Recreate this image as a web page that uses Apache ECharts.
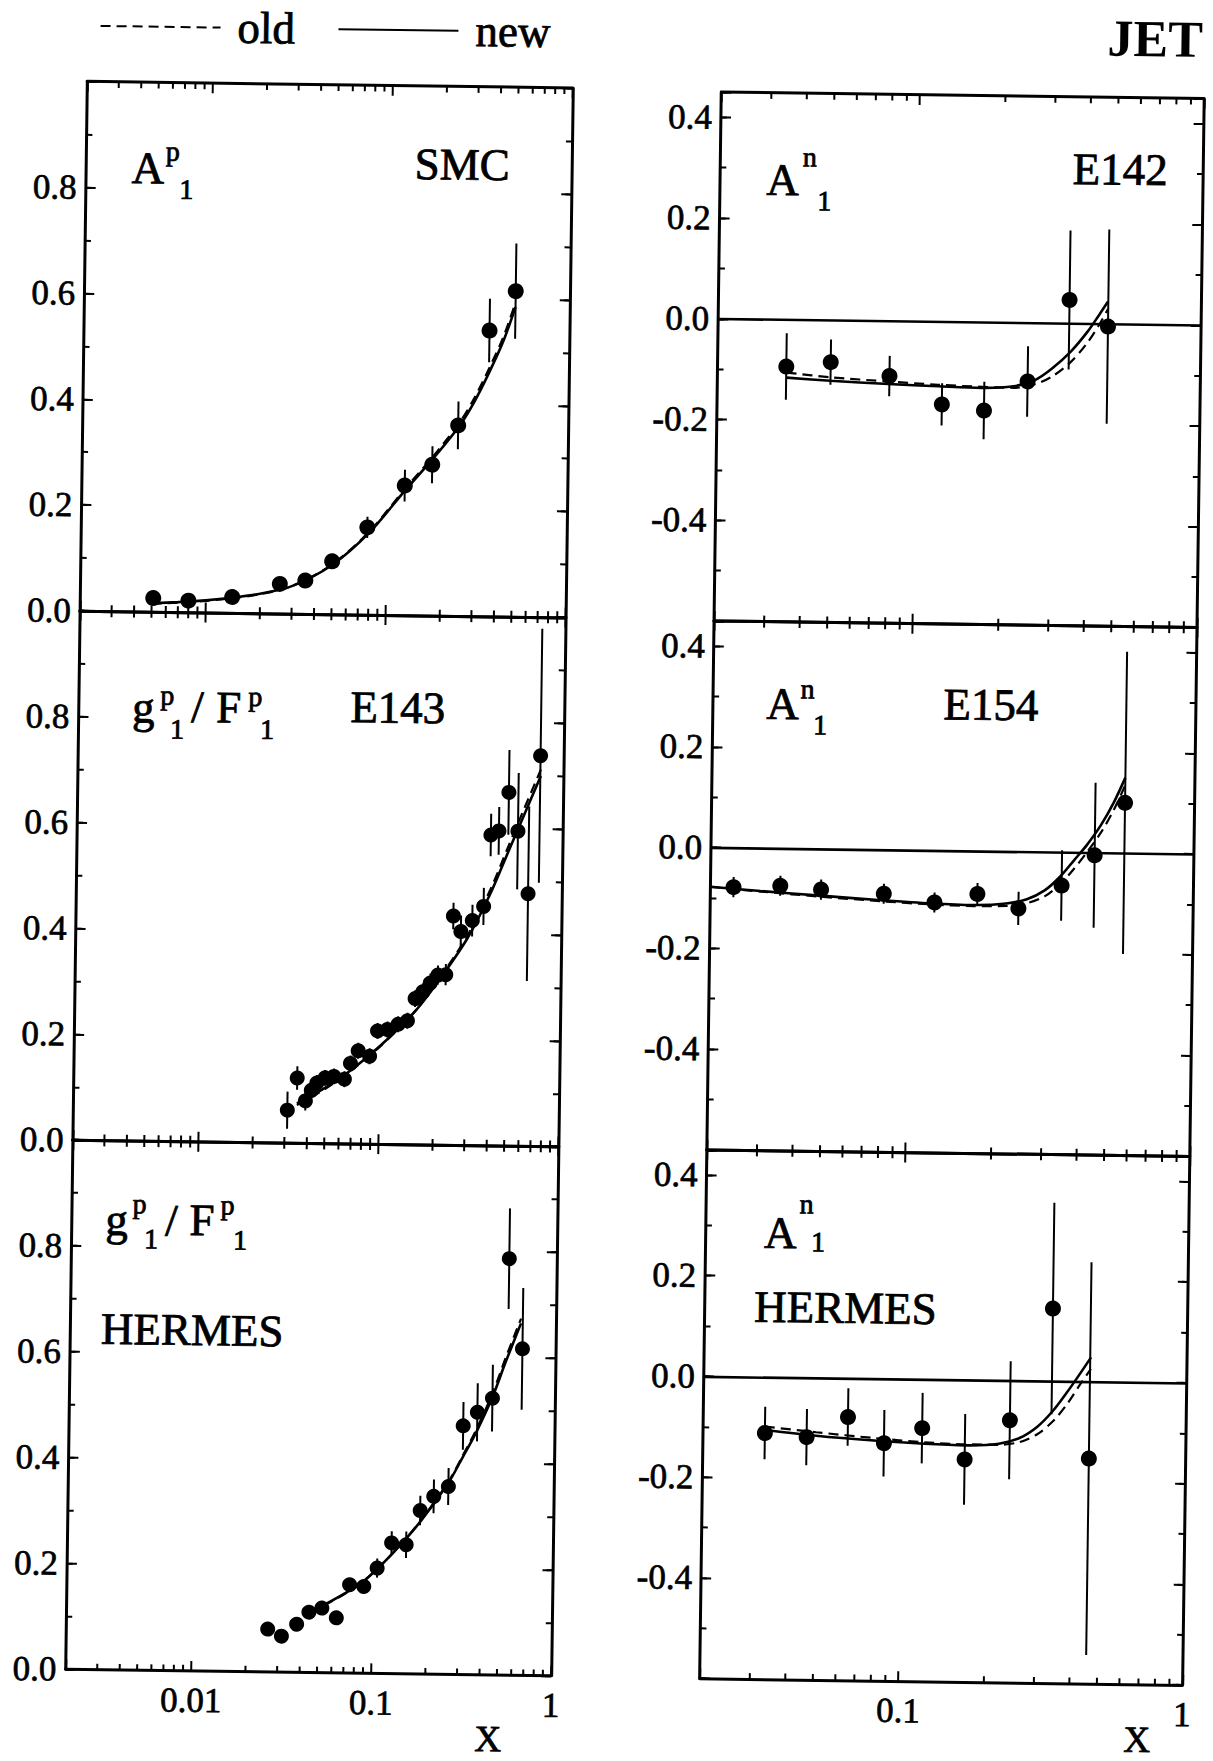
<!DOCTYPE html>
<html><head><meta charset="utf-8">
<script src="https://cdn.jsdelivr.net/npm/echarts@6.0.0/dist/echarts.min.js"></script>
<style>
html,body{margin:0;padding:0;background:#fff;overflow:hidden;width:1213px;height:1761px}
#c{position:absolute;left:0;top:0;width:1213px;height:1761px;transform:rotate(0.78deg);transform-origin:606.5px 880.5px}
</style></head><body><div id="c"></div>
<script>
// ---------- DATA ----------
// SMC  A1^p
const smcX   = [0.0051, 0.0080, 0.0140, 0.0257, 0.0356, 0.0500, 0.0780, 0.125, 0.177, 0.245, 0.36, 0.50];
const smcY   = [0.026, 0.022, 0.030, 0.056, 0.063, 0.100, 0.165, 0.245, 0.285, 0.360, 0.540, 0.615];
const smcErr = [0.006, 0.006, 0.007, 0.012, 0.014, 0.014, 0.020, 0.030, 0.035, 0.045, 0.060, 0.090];
const smcCurveX = [0.005, 0.007, 0.01, 0.015, 0.02, 0.03, 0.05, 0.08, 0.125, 0.18, 0.25, 0.3, 0.36, 0.43, 0.5];
const smcNew    = [0.016, 0.019, 0.023, 0.030, 0.037, 0.052, 0.093, 0.155, 0.235, 0.298, 0.360, 0.405, 0.460, 0.520, 0.585];
const smcOld    = [0.015, 0.018, 0.022, 0.029, 0.036, 0.052, 0.094, 0.157, 0.238, 0.302, 0.366, 0.412, 0.468, 0.528, 0.594];

// E143  g1^p / F1^p
const e143X   = [0.031, 0.035, 0.039, 0.042, 0.045, 0.050, 0.056, 0.064, 0.069, 0.076, 0.088, 0.097, 0.110, 0.126, 0.142, 0.156, 0.172, 0.189, 0.208, 0.230, 0.251, 0.277, 0.320, 0.369, 0.40, 0.443, 0.50, 0.565, 0.65, 0.745];
const e143Y   = [0.062, 0.123, 0.080, 0.100, 0.114, 0.124, 0.127, 0.122, 0.152, 0.176, 0.166, 0.214, 0.217, 0.227, 0.234, 0.276, 0.289, 0.306, 0.321, 0.322, 0.433, 0.404, 0.425, 0.452, 0.587, 0.595, 0.668, 0.595, 0.477, 0.738];
const e143Err = [0.035, 0.022, 0.018, 0.015, 0.015, 0.015, 0.015, 0.015, 0.015, 0.015, 0.015, 0.015, 0.015, 0.015, 0.015, 0.016, 0.016, 0.018, 0.018, 0.020, 0.025, 0.030, 0.030, 0.035, 0.040, 0.045, 0.080, 0.110, 0.165, 0.240];
const e143CurveX = [0.035, 0.05, 0.07, 0.1, 0.15, 0.2, 0.3, 0.4, 0.5, 0.6, 0.75];
const e143New    = [0.075, 0.105, 0.140, 0.185, 0.245, 0.300, 0.390, 0.475, 0.555, 0.620, 0.700];
const e143Old    = [0.072, 0.103, 0.139, 0.184, 0.245, 0.302, 0.395, 0.483, 0.565, 0.632, 0.712];

// HERMES  g1^p / F1^p
const hpX   = [0.0264, 0.0315, 0.0382, 0.0446, 0.0526, 0.0634, 0.0747, 0.0896, 0.106, 0.127, 0.153, 0.182, 0.216, 0.260, 0.311, 0.372, 0.450, 0.545, 0.655];
const hpY   = [0.081, 0.068, 0.091, 0.114, 0.122, 0.104, 0.167, 0.164, 0.199, 0.247, 0.244, 0.309, 0.336, 0.355, 0.470, 0.496, 0.523, 0.787, 0.617];
const hpErr = [0.008, 0.008, 0.008, 0.008, 0.008, 0.008, 0.012, 0.012, 0.018, 0.022, 0.025, 0.028, 0.032, 0.035, 0.045, 0.055, 0.063, 0.095, 0.115];
const hpCurveX = [0.054, 0.07, 0.09, 0.127, 0.18, 0.26, 0.31, 0.37, 0.45, 0.53, 0.64];
const hpNew    = [0.128, 0.150, 0.175, 0.225, 0.285, 0.362, 0.410, 0.460, 0.525, 0.592, 0.665];
const hpOld    = [0.127, 0.149, 0.175, 0.225, 0.286, 0.364, 0.413, 0.465, 0.532, 0.600, 0.674];

// E142  A1^n
const e142X   = [0.0349, 0.050, 0.0806, 0.1236, 0.174, 0.247, 0.344, 0.471];
const e142Y   = [-0.093, -0.083, -0.109, -0.164, -0.175, -0.116, 0.047, -0.005];
const e142Err = [0.066, 0.045, 0.040, 0.042, 0.057, 0.070, 0.138, 0.193];
const e142CurveX = [0.035, 0.05, 0.08, 0.12, 0.17, 0.22, 0.26, 0.30, 0.35, 0.40, 0.44, 0.47];
const e142New    = [-0.115, -0.120, -0.125, -0.128, -0.130, -0.126, -0.114, -0.090, -0.055, -0.015, 0.020, 0.045];
const e142Old    = [-0.105, -0.113, -0.120, -0.125, -0.128, -0.129, -0.122, -0.106, -0.076, -0.037, 0.000, 0.030];

// E154  A1^n
const e154X   = [0.0241, 0.0352, 0.049, 0.0815, 0.123, 0.174, 0.243, 0.344, 0.448, 0.570];
const e154Y   = [-0.078, -0.074, -0.0805, -0.087, -0.103, -0.085, -0.1125, -0.066, -0.005, 0.100];
const e154Err = [0.020, 0.020, 0.020, 0.020, 0.020, 0.022, 0.033, 0.070, 0.144, 0.300];
const e154CurveX = [0.02, 0.03, 0.05, 0.08, 0.12, 0.17, 0.22, 0.26, 0.30, 0.34, 0.38, 0.42, 0.47, 0.52, 0.57];
const e154New    = [-0.078, -0.085, -0.093, -0.100, -0.105, -0.107, -0.103, -0.094, -0.076, -0.048, -0.015, 0.015, 0.055, 0.100, 0.150];
const e154Old    = [-0.078, -0.086, -0.095, -0.102, -0.107, -0.109, -0.108, -0.102, -0.088, -0.063, -0.032, 0.000, 0.040, 0.085, 0.135];

// HERMES  A1^n
const hnX   = [0.033, 0.0463, 0.0646, 0.0867, 0.118, 0.167, 0.240, 0.336, 0.457];
const hnY   = [-0.111, -0.118, -0.077, -0.128, -0.097, -0.158, -0.079, 0.144, -0.153];
const hnErr = [0.052, 0.056, 0.057, 0.066, 0.070, 0.090, 0.117, 0.210, 0.390];
const hnCurveX = [0.033, 0.05, 0.08, 0.12, 0.17, 0.22, 0.26, 0.30, 0.34, 0.38, 0.42, 0.46];
const hnNew    = [-0.105, -0.115, -0.123, -0.128, -0.130, -0.126, -0.114, -0.091, -0.059, -0.022, 0.014, 0.048];
const hnOld    = [-0.098, -0.108, -0.118, -0.125, -0.128, -0.128, -0.122, -0.106, -0.080, -0.046, -0.008, 0.025];

// tick labels / ticks
const leftXLabels  = [0.01, 0.1, 1];
const rightXLabels = [0.1, 1];
const leftYLabels  = [0.0, 0.2, 0.4, 0.6, 0.8];
const rightYLabels = [-0.4, -0.2, 0.0, 0.2, 0.4];
const leftXRange  = [0.002, 1];
const rightXRange = [0.02, 1];
const leftYRange  = [0, 1];
const rightYRange = [-0.6, 0.45];
const leftMinorX  = [0.003,0.004,0.005,0.006,0.007,0.008,0.009,0.02,0.03,0.04,0.05,0.06,0.07,0.08,0.09,0.2,0.3,0.4,0.5,0.6,0.7,0.8,0.9];
const rightMinorX = [0.03,0.04,0.05,0.06,0.07,0.08,0.09,0.2,0.3,0.4,0.5,0.6,0.7,0.8,0.9];

// ---------- LAYOUT ----------
const FONT = 'Liberation Serif';
const layout = {
  L: {left: 76.3, width: 485.6, tops: [88.7, 618.0, 1147.2], height: 529.3},
  R: {left: 710.6, width: 482.7, tops: [90.7, 619.5, 1148.3], height: 528.8}
};
const panels = [
  {col:'L', row:0, px:smcX, py:smcY, pe:smcErr, cx:smcCurveX, cn:smcNew, co:smcOld, dot:16},
  {col:'L', row:1, px:e143X, py:e143Y, pe:e143Err, cx:e143CurveX, cn:e143New, co:e143Old, dot:15},
  {col:'L', row:2, px:hpX, py:hpY, pe:hpErr, cx:hpCurveX, cn:hpNew, co:hpOld, dot:15, xl:true},
  {col:'R', row:0, px:e142X, py:e142Y, pe:e142Err, cx:e142CurveX, cn:e142New, co:e142Old, dot:16},
  {col:'R', row:1, px:e154X, py:e154Y, pe:e154Err, cx:e154CurveX, cn:e154New, co:e154Old, dot:16},
  {col:'R', row:2, px:hnX, py:hnY, pe:hnErr, cx:hnCurveX, cn:hnNew, co:hnOld, dot:16, xl:true}
];

const pairs = (xs, ys) => xs.map((x, i) => [x, ys[i]]);
const triples = (xs, ys, es) => xs.map((x, i) => [x, ys[i], es[i]]);

const grids = [], xAxes = [], yAxes = [], series = [];
const lineBlack = {color:'#000', width:3};
const tickMajor = {show:true, inside:true, length:10, lineStyle:{color:'#000', width:2}};
const tickMinor = {show:true, inside:true, length:6, lineStyle:{color:'#000', width:2}};
const labelInk = {color:'#000', fontFamily:FONT, fontSize:35, textBorderColor:'#000', textBorderWidth:0.7};
const DASH = [10, 6];

panels.forEach((p, g) => {
  const L = p.col === 'L';
  const lay = layout[p.col];
  grids.push({left: lay.left, top: lay.tops[p.row], width: lay.width, height: lay.height});
  const xr = L ? leftXRange : rightXRange;
  const yr = L ? leftYRange : rightYRange;
  const xlab = p.xl ? (L ? leftXLabels : rightXLabels) : [];
  const ylab = L ? leftYLabels : rightYLabels;
  const minorX = L ? leftMinorX : rightMinorX;

  const bx = {type:'log', logBase:10, min:xr[0], max:xr[1], gridIndex:g,
    splitLine:{show:false}, axisLine:{show:true, onZero:false, lineStyle:lineBlack}, axisTick:tickMajor};
  xAxes.push(Object.assign({}, bx, {position:'bottom', axisLabel:Object.assign({show: xlab.length > 0, margin:12,
    formatter: v => { const t = xlab.find(t => Math.abs(t - v) / t < 1e-6); return t === undefined ? '' : String(t); }}, labelInk)}));
  xAxes.push(Object.assign({}, bx, {position:'top', axisLabel:{show:false}}));

  const by = {type:'value', min:yr[0], max:yr[1], gridIndex:g, splitLine:{show:false}};
  yAxes.push(Object.assign({}, by, {position:'left', interval:0.2, axisLine:{show:true, onZero:false, lineStyle:lineBlack},
    axisTick:tickMajor, axisLabel:Object.assign({margin:9,
    formatter: v => { const t = ylab.find(t => Math.abs(t - v) < 1e-6); return t === undefined ? '' : t.toFixed(1); }}, labelInk)}));
  yAxes.push(Object.assign({}, by, {position:'left', interval:0.1, axisLine:{show:false, onZero:false}, axisTick:tickMinor, axisLabel:{show:false}}));
  yAxes.push(Object.assign({}, by, {position:'right', interval:0.2, axisLine:{show:true, onZero:false, lineStyle:lineBlack}, axisTick:tickMajor, axisLabel:{show:false}}));
  yAxes.push(Object.assign({}, by, {position:'right', interval:0.1, axisLine:{show:false, onZero:false}, axisTick:tickMinor, axisLabel:{show:false}}));

  const xi = 2 * g, yi = 4 * g;
  series.push({type:'line', name:'old', xAxisIndex:xi, yAxisIndex:yi, data:pairs(p.cx, p.co),
    symbol:'none', showSymbol:false, smooth:0.3,
    lineStyle:{color:'#000', width:2.2, type:DASH}, itemStyle:{color:'#000'}, z:2, silent:true});
  const sNew = {type:'line', name:'new', xAxisIndex:xi, yAxisIndex:yi, data:pairs(p.cx, p.cn),
    symbol:'none', showSymbol:false, smooth:0.3,
    lineStyle:{color:'#000', width:2.6, type:'solid'}, itemStyle:{color:'#000'}, z:2, silent:true};
  if (!L) {
    sNew.markLine = {silent:true, symbol:['none','none'], label:{show:false}, animation:false,
      lineStyle:{color:'#000', width:2.6, type:'solid'}, data:[{yAxis:0}]};
  }
  series.push(sNew);
  series.push({type:'custom', xAxisIndex:xi, yAxisIndex:yi, data:triples(p.px, p.py, p.pe), silent:true, z:3,
    encode:{x:0, y:1},
    renderItem: (params, api) => {
      const x = api.value(0), y = api.value(1), e = api.value(2);
      const a = api.coord([x, y + e]), b = api.coord([x, y - e]);
      return {type:'line', shape:{x1:a[0], y1:a[1], x2:b[0], y2:b[1]}, style:{stroke:'#000', lineWidth:2}};
    }});
  series.push({type:'scatter', xAxisIndex:xi, yAxisIndex:yi, data:pairs(p.px, p.py), symbol:'circle',
    symbolSize:p.dot, itemStyle:{color:'#000', opacity:1}, z:4, silent:true});
  series.push({type:'custom', xAxisIndex:xi, yAxisIndex:yi, data:minorX.map(v => [v, yr[0]]), silent:true, z:5,
    encode:{x:0, y:1},
    renderItem: (params, api) => {
      const cs = params.coordSys;
      const px = api.coord([api.value(0), api.value(1)])[0];
      const yb = cs.y + cs.height, yt = cs.y;
      return {type:'group', children:[
        {type:'line', shape:{x1:px, y1:yb, x2:px, y2:yb - 6}, style:{stroke:'#000', lineWidth:2}},
        {type:'line', shape:{x1:px, y1:yt, x2:px, y2:yt + 6}, style:{stroke:'#000', lineWidth:2}}
      ]};
    }});
});

// panel annotation texts: [text, left x, baseline y, size, weight]
const annots = [
  ['A',122,189,45], ['p',156,166,28], ['1',170,204,28], ['SMC',405,181,45],
  ['A',757,192,45], ['n',793,163,28], ['1',808,207,28], ['E142',1063,177,45],
  ['g',130,728,45], ['p',158,710,28], ['1',168,744,28], ['/',189,727,45], ['F',214,727,45], ['p',246,710,28], ['1',258,743,28], ['E143',348,725,45],
  ['A',764,716,45], ['n',798,695,28], ['1',811,731,28], ['E154',941,714,45],
  ['g',110,1241,45], ['p',137,1219,28], ['1',149,1254,28], ['/',170,1241,45], ['F',194,1240,45], ['p',225,1219,28], ['1',238,1254,28], ['HERMES',107,1350,45],
  ['A',769,1245,45], ['n',804,1210,28], ['1',816,1248,28], ['HERMES',760,1319,45],
  ['JET',1096,48,52,'bold'],
  ['X',486,1752,37], ['X',1135,1744,37]
];
const graphic = annots.map(a => ({
  type:'text', silent:true, x:a[1], y:a[2] - 0.32 * a[3],
  style:{text:a[0], font:(a[4] ? a[4] + ' ' : '') + a[3] + 'px "' + FONT + '"', fill:'#000',
    stroke: a[4] ? null : '#000', lineWidth: a[4] ? 0 : 0.8, align:'left', verticalAlign:'middle'}
}));

const chart = echarts.init(document.getElementById('c'), null, {renderer:'svg', width:1213, height:1761});
chart.setOption({
  animation:false,
  backgroundColor:'#fff',
  legend:{data:['old','new'], left:88, top:10, padding:0, itemWidth:120, itemHeight:14, itemGap:42,
    selectedMode:false, itemStyle:{opacity:0, color:'rgba(0,0,0,0)', borderWidth:0},
    textStyle:{fontFamily:FONT, fontSize:45, color:'#000', textBorderColor:'#000', textBorderWidth:0.8, padding:[0,0,0,12]}},
  grid:grids, xAxis:xAxes, yAxis:yAxes, series:series, graphic:graphic
});
</script></body></html>
